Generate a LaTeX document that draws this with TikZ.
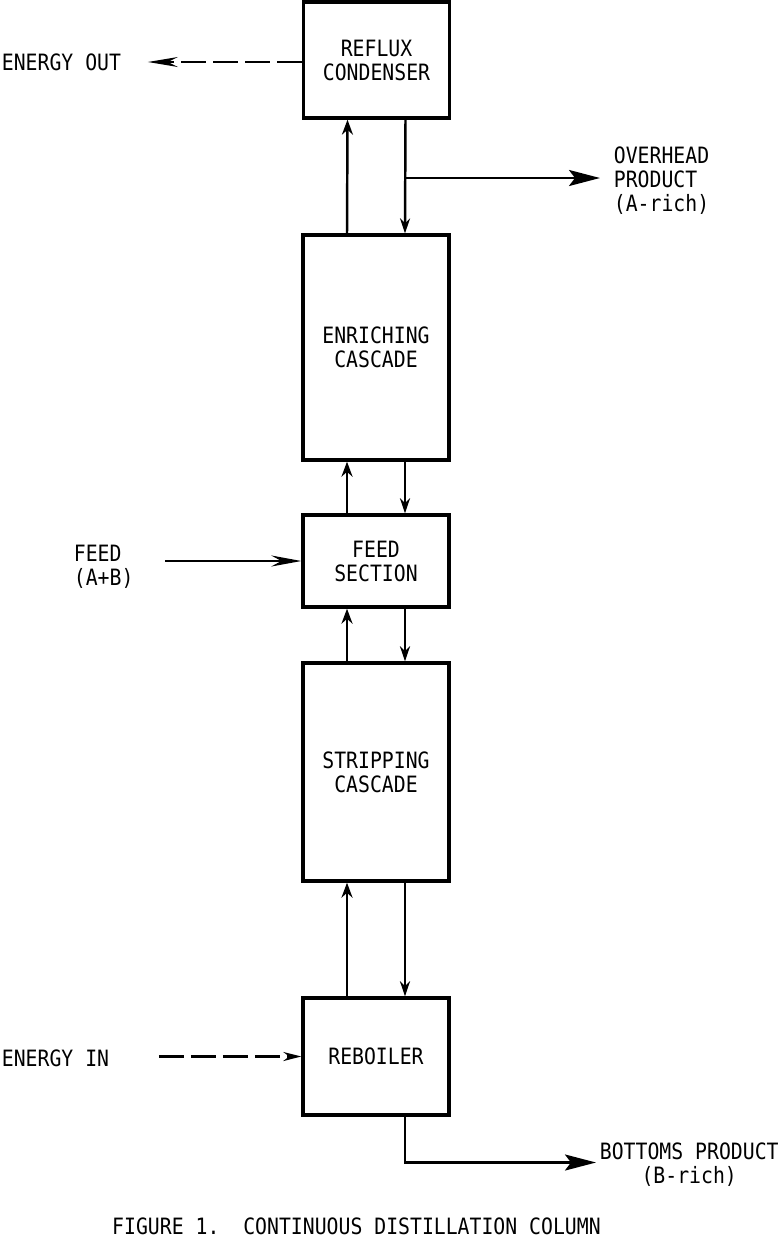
\documentclass[tikz,border=0pt]{standalone}
\usepackage{fontspec}
\setmainfont{DejaVu Sans Mono}[FakeStretch=0.88]
\usetikzlibrary{arrows.meta, positioning, calc}
\newcommand{\labfont}{\fontsize{12.8pt}{13.7pt}\selectfont}
\tikzset{
  blk/.style={draw, line width=1.9pt, minimum width=2.92cm, inner sep=2pt, align=center, font=\labfont},
  lab/.style={inner sep=2pt, font=\labfont},
  upa/.style={line width=1.4pt, -{Stealth[open, length=0.3cm, width=0.22cm]}},
  dna/.style={line width=1.4pt, -{Stealth[length=0.3cm, width=0.2cm]}},
  prod/.style={line width=1.5pt, -{Stealth[length=0.62cm, width=0.32cm, inset=0.12cm]}},
  ina/.style={line width=1.4pt, -{Stealth[open, length=0.6cm, width=0.22cm, inset=0.2cm]}},
  nrg/.style={line width=1.4pt, dash pattern=on 0.5cm off 0.14cm}
}
\begin{document}
\begin{tikzpicture}[x=0.02cm, y=-0.02cm]
		\useasboundingbox (0,0) rectangle (783,1241);
		% column blocks
		\node[blk, minimum height=2.32cm] (cond) at (376.5,60) {REFLUX\\CONDENSER};
		\node[blk, minimum height=4.5cm] (enr) at (376,347.5) {ENRICHING\\CASCADE};
		\node[blk, minimum height=1.84cm] (feed) at (376,561) {FEED\\SECTION};
		\node[blk, minimum height=4.36cm] (strip) at (376,772) {STRIPPING\\CASCADE};
		\node[blk, minimum height=2.34cm] (reb) at (376,1056.5) {REBOILER};
		% outside labels
		\node[lab, anchor=west] (eout) at (-2,62) {ENERGY OUT};
		\node[lab, anchor=west, align=left] (ovh) at (610,181) {OVERHEAD\\PRODUCT\\(A-rich)};
		\node[lab, anchor=west, align=left] (fin) at (70,567) {FEED\\(A+B)};
		\node[lab, anchor=west] (ein) at (-2,1058) {ENERGY IN};
		\node[lab, anchor=west, align=center] (bot) at (596,1165) {BOTTOMS PRODUCT\\(B-rich)};
		\node[lab] (cap) at (356.5,1226) {FIGURE 1.~~CONTINUOUS DISTILLATION COLUMN};
		\coordinate (otap) at ([xshift=0.58cm]cond.south |- ovh);
		% vapour up, liquid down
		\draw[upa] ([xshift=-0.58cm]enr.north) -- ([xshift=-0.58cm]cond.south);
		\draw[dna] ([xshift=0.58cm]cond.south) -- ([xshift=0.58cm]enr.north);
		\draw[upa] ([xshift=-0.58cm]feed.north) -- ([xshift=-0.58cm]enr.south);
		\draw[dna] ([xshift=0.58cm]enr.south) -- ([xshift=0.58cm]feed.north);
		\draw[upa] ([xshift=-0.58cm]strip.north) -- ([xshift=-0.58cm]feed.south);
		\draw[dna] ([xshift=0.58cm]feed.south) -- ([xshift=0.58cm]strip.north);
		\draw[upa] ([xshift=-0.58cm]reb.north) -- ([xshift=-0.58cm]strip.south);
		\draw[dna] ([xshift=0.58cm]strip.south) -- ([xshift=0.58cm]reb.north);
		% products and feed
		\draw[prod, shorten >=0.2cm] ([yshift=0.06cm]otap) -- ([yshift=0.06cm]ovh.west |- otap);
		\draw[ina, shorten <=0.56cm] (fin.east |- feed.west) -- (feed.west);
		\draw[prod] ([xshift=0.58cm]reb.south) |- ([yshift=0.05cm]bot.west);
		% energy streams
		\draw[nrg, -{Stealth[open, length=0.6cm, width=0.2cm, inset=0.2cm]}, shorten >=0.46cm] ([yshift=-0.04cm]cond.west) -- ([yshift=-0.04cm]cond.west -| eout.east);
		\draw[nrg, -{Stealth[length=0.36cm, width=0.18cm]}, shorten <=0.92cm] (ein.east |- reb.west) -- (reb.west);
	\end{tikzpicture}
\end{document}
